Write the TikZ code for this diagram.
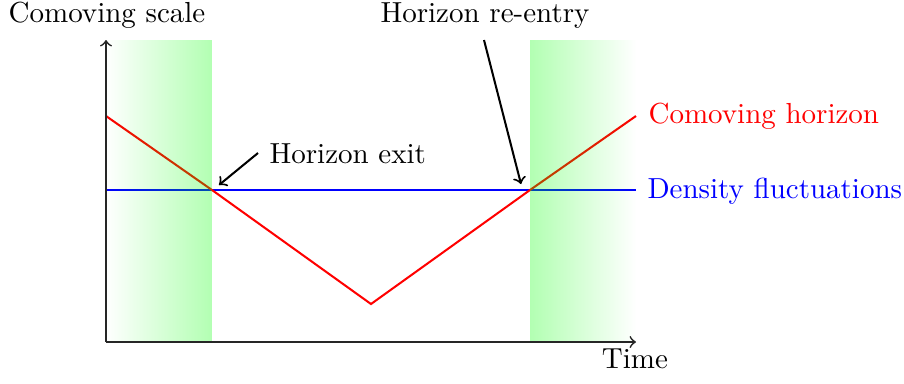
\documentclass[tikz,border=0pt]{standalone}
\usetikzlibrary{fadings}
\begin{document}
\begin{tikzpicture}[x=0.3448pt,y=-0.3448pt,
  axis/.style={->,black!85,line width=0.6pt},
  curve/.style={line width=0.7pt},
  band/.style={fill=green,fill opacity=0.3},
  lbl/.style={inner sep=0pt,font=\normalsize},
  note/.style={->,black,line width=0.7pt}]
\useasboundingbox (0,0) rectangle (904,383);
% coordinates
\coordinate (O) at (106,342);
\coordinate (Ytop) at (106,40);
\coordinate (Xend) at (636,342);
\coordinate (R0) at (106,116);
\coordinate (R1) at (212,190);
\coordinate (R2) at (371,304);
\coordinate (R3) at (530,190);
\coordinate (R4) at (636,116);
\coordinate (B0) at (106,190);
\coordinate (B1) at (636,190);
% curves
\draw[curve,blue] (B0) -- (B1);
\draw[curve,red] (R0) -- (R1) -- (R2) -- (R3) -- (R4);
% bands
\fill[band,path fading=west] (106,40) rectangle (212,342);
\fill[band,path fading=east] (530,40) rectangle (636,342);
% axes
\draw[axis] (O) -- (Ytop);
\draw[axis] (O) -- (Xend);
% labels
\node[lbl,anchor=base] (ylab) at (107,22) {Comoving scale};
\node[lbl,anchor=base] (xlab) at (635,368) {Time};
\node[lbl,anchor=base west,text=red] (ch) at (648,123) {Comoving horizon};
\node[lbl,anchor=base west,text=blue] (df) at (647,198) {Density fluctuations};
\node[lbl,anchor=base west] (exit) at (269,163) {Horizon exit};
\node[lbl,anchor=base] (reentry) at (485,22) {Horizon re-entry};
% annotation arrows
\coordinate (exitS) at (258,153);
\coordinate (exitE) at (219,185);
\coordinate (reS) at (484,40);
\coordinate (reE) at (521,184);
\draw[note] (exitS) -- (exitE);
\draw[note] (reS) -- (reE);
\end{tikzpicture}
\end{document}
